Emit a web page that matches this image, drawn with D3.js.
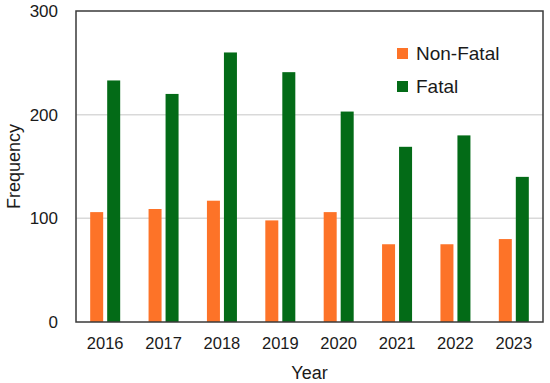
<!DOCTYPE html>
<html lang="en">
<head>
  <meta charset="utf-8">
  <title>Frequency by Year</title>
  <style>
    body { margin: 0; background: #fff; }
    svg { display: block; font-family: "Liberation Sans", Arial, sans-serif; }
  </style>
</head>
<body>
  <div id="chart"></div>

<script src="https://cdn.jsdelivr.net/npm/d3@7"></script>
<script>

  ////////////////////////////////////////////////// DATA

  var years = ["2016", "2017", "2018", "2019", "2020", "2021", "2022", "2023"];
  var nonFatal = [106, 109, 117, 98, 106, 75, 75, 80];
  var fatal = [233, 220, 260, 241, 203, 169, 180, 140];
  var seriesNames = ["Non-Fatal", "Fatal"];
  var yTicks = [0, 100, 200, 300];

  ////////////////////////////////////////////////// SETUP

  var width = 550, height = 383;
  var margin = {top: 11, right: 7, bottom: 61, left: 76};
  var plotW = width - margin.left - margin.right;
  var plotH = height - margin.top - margin.bottom;

  var colors = ["#fd7328", "#036b17"];

  var svg = d3.select("#chart").append("svg")
    .attr("width", width)
    .attr("height", height);

  var g = svg.append("g")
    .attr("transform", "translate(" + margin.left + "," + margin.top + ")");

  var x = d3.scaleBand().domain(years).range([0, plotW]).padding(0);
  var y = d3.scaleLinear().domain([0, 300]).range([plotH, 0]);

  // inner scale: two bars side by side, centered in the band
  var barW = 13, barGap = 4;
  var sub = d3.scaleBand().domain(seriesNames)
    .range([x.bandwidth() / 2 - barW - barGap / 2, x.bandwidth() / 2 + barW + barGap / 2])
    .paddingInner(barGap / (barW + barGap));

  // gridlines
  g.append("g")
    .selectAll("line")
    .data(yTicks.filter(function(d) { return d > 0 && d < 300; }))
    .join("line")
    .attr("x1", 0).attr("x2", plotW)
    .attr("y1", function(d) { return y(d); })
    .attr("y2", function(d) { return y(d); })
    .attr("stroke", "#d9d9d9")
    .attr("stroke-width", 1.5);

  // bars
  var rows = years.map(function(yr, i) {
    return {year: yr, values: [nonFatal[i], fatal[i]]};
  });

  var groups = g.append("g").selectAll("g")
    .data(rows)
    .join("g")
    .attr("transform", function(d) { return "translate(" + x(d.year) + ",0)"; });

  groups.selectAll("rect")
    .data(function(d) { return d.values.map(function(v, i) { return {name: seriesNames[i], value: v, i: i}; }); })
    .join("rect")
    .attr("x", function(d) { return sub(d.name); })
    .attr("width", sub.bandwidth())
    .attr("y", function(d) { return y(d.value); })
    .attr("height", function(d) { return plotH - y(d.value); })
    .attr("fill", function(d) { return colors[d.i]; });

  // frame
  g.append("rect")
    .attr("x", 0).attr("y", 0)
    .attr("width", plotW).attr("height", plotH)
    .attr("fill", "none")
    .attr("stroke", "#3a3a3a")
    .attr("stroke-width", 1.5);

  // y axis
  var yAxis = g.append("g")
    .call(d3.axisLeft(y).tickValues(yTicks).tickSize(0).tickPadding(18));
  yAxis.select(".domain").remove();
  yAxis.selectAll("text")
    .attr("font-size", 17)
    .attr("font-family", "Liberation Sans, Arial, sans-serif")
    .attr("fill", "#1a1a1a");

  // x axis
  var xAxis = g.append("g")
    .attr("transform", "translate(0," + plotH + ")")
    .call(d3.axisBottom(x).tickSize(0).tickPadding(15));
  xAxis.select(".domain").remove();
  xAxis.selectAll("text")
    .attr("font-size", 16.5)
    .attr("font-family", "Liberation Sans, Arial, sans-serif")
    .attr("fill", "#1a1a1a");

  // axis titles
  svg.append("text")
    .attr("x", margin.left + plotW / 2)
    .attr("y", 379)
    .attr("text-anchor", "middle")
    .attr("font-size", 18)
    .attr("fill", "#1a1a1a")
    .text("Year");

  svg.append("text")
    .attr("transform", "translate(20," + (margin.top + plotH / 2) + ")rotate(-90)")
    .attr("text-anchor", "middle")
    .attr("font-size", 18)
    .attr("fill", "#1a1a1a")
    .text("Frequency");

  // legend
  var legend = svg.append("g")
    .attr("transform", "translate(397,48)");

  var items = legend.selectAll("g")
    .data(seriesNames)
    .join("g")
    .attr("transform", function(d, i) { return "translate(0," + (i * 33) + ")"; });

  items.append("rect")
    .attr("width", 11).attr("height", 11)
    .attr("fill", function(d, i) { return colors[i]; });

  items.append("text")
    .attr("x", 19)
    .attr("y", 12)
    .attr("font-size", 19)
    .attr("fill", "#1a1a1a")
    .text(function(d) { return d; });

</script>
</body>
</html>
